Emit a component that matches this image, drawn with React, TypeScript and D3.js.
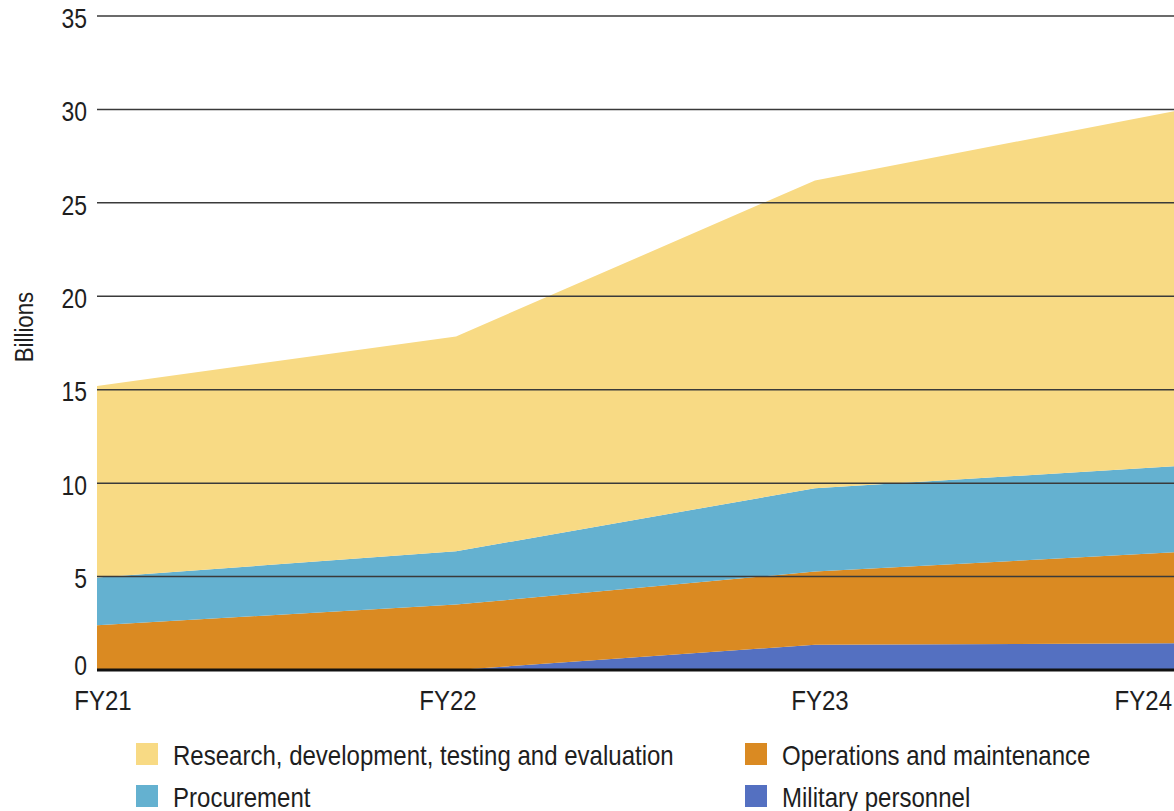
import React, { useEffect } from "react";
import * as d3 from "d3";

const years = ["FY21", "FY22", "FY23", "FY24"];
const militaryPersonnel = [0, 0, 1.35, 1.43];
const operationsMaintenance = [2.4, 3.5, 3.92, 4.87];
const procurement = [2.55, 2.85, 4.46, 4.6];
const rdte = [10.25, 11.5, 16.47, 19.0];
const yTicks = [0, 5, 10, 15, 20, 25, 30, 35];

const seriesKeys = ["mil", "om", "proc", "rdte"];
const seriesNames = [
  "Military personnel",
  "Operations and maintenance",
  "Procurement",
  "Research, development, testing and evaluation",
];
const seriesColors = ["#5470c1", "#da8a22", "#64b1d0", "#f8da84"];
const labelShift = [6, -8, 5, 0];

const W = 1174;
const H = 811;
const FONT = "'Liberation Sans', Arial, sans-serif";

function NText(props: {
  x: number;
  y: number;
  sx: number;
  size: number;
  anchor?: string;
  baseline?: string;
  rotate?: number;
  children: React.ReactNode;
}) {
  const { x, y, sx, size, anchor, baseline, rotate, children } = props;
  return (
    <text
      transform={`translate(${x},${y}) rotate(${rotate || 0}) scale(${sx},1)`}
      textAnchor={anchor || "start"}
      dominantBaseline={baseline || "auto"}
      fontSize={size}
      fill="#1e1e1e"
    >
      {children}
    </text>
  );
}

export default function App() {
  useEffect(() => {
    document.body.style.margin = "0";
  }, []);

  const rows = years.map((y, i) => ({
    year: y,
    mil: militaryPersonnel[i],
    om: operationsMaintenance[i],
    proc: procurement[i],
    rdte: rdte[i],
  }));

  const stacked = d3.stack<any>().keys(seriesKeys)(rows);

  const x = d3.scalePoint<string>().domain(years).range([97, 1174]);
  const y = d3.scaleLinear().domain([0, 35]).range([670, 16]);

  const area = d3
    .area<any>()
    .x((d) => x(d.data.year) as number)
    .y0((d) => y(d[0]))
    .y1((d) => y(d[1]));

  const legendItems = [
    { idx: 3, lx: 136, ly: 754 },
    { idx: 2, lx: 136, ly: 796 },
    { idx: 1, lx: 745, ly: 754 },
    { idx: 0, lx: 745, ly: 796 },
  ];

  return (
    <svg width={W} height={H} style={{ display: "block" }} fontFamily={FONT}>
      <rect x={0} y={0} width={W} height={H} fill="#ffffff" />
      {stacked.map((s, i) => (
        <path key={s.key} d={area(s as any) || ""} fill={seriesColors[i]} />
      ))}
      {yTicks.map((t) => (
        <g key={t}>
          {t > 0 && (
            <line
              x1={97}
              x2={W}
              y1={y(t)}
              y2={y(t)}
              stroke="#3a3a3a"
              strokeWidth={1.5}
            />
          )}
          <NText
            x={87}
            y={t === 0 ? y(t) - 5 : y(t) + 2}
            sx={0.85}
            size={27}
            anchor="end"
            baseline="central"
          >
            {t}
          </NText>
        </g>
      ))}
      <line x1={97} x2={W} y1={y(0)} y2={y(0)} stroke="#111" strokeWidth={3} />
      {years.map((yr, i) => {
        const px = x(yr) as number;
        const last = i === years.length - 1;
        const lx = last ? W - 2 : px + labelShift[i];
        return (
          <NText
            key={yr}
            x={lx}
            y={710}
            sx={0.89}
            size={27}
            anchor={last ? "end" : "middle"}
          >
            {yr}
          </NText>
        );
      })}
      <NText
        x={25}
        y={327}
        sx={0.89}
        size={25}
        rotate={-90}
        anchor="middle"
        baseline="central"
      >
        Billions
      </NText>
      {legendItems.map((it) => (
        <g key={it.idx}>
          <rect
            x={it.lx}
            y={it.ly - 11}
            width={22}
            height={22}
            fill={seriesColors[it.idx]}
          />
          <NText
            x={it.lx + 37}
            y={it.ly + 1}
            sx={0.89}
            size={27}
            baseline="central"
          >
            {seriesNames[it.idx]}
          </NText>
        </g>
      ))}
    </svg>
  );
}
